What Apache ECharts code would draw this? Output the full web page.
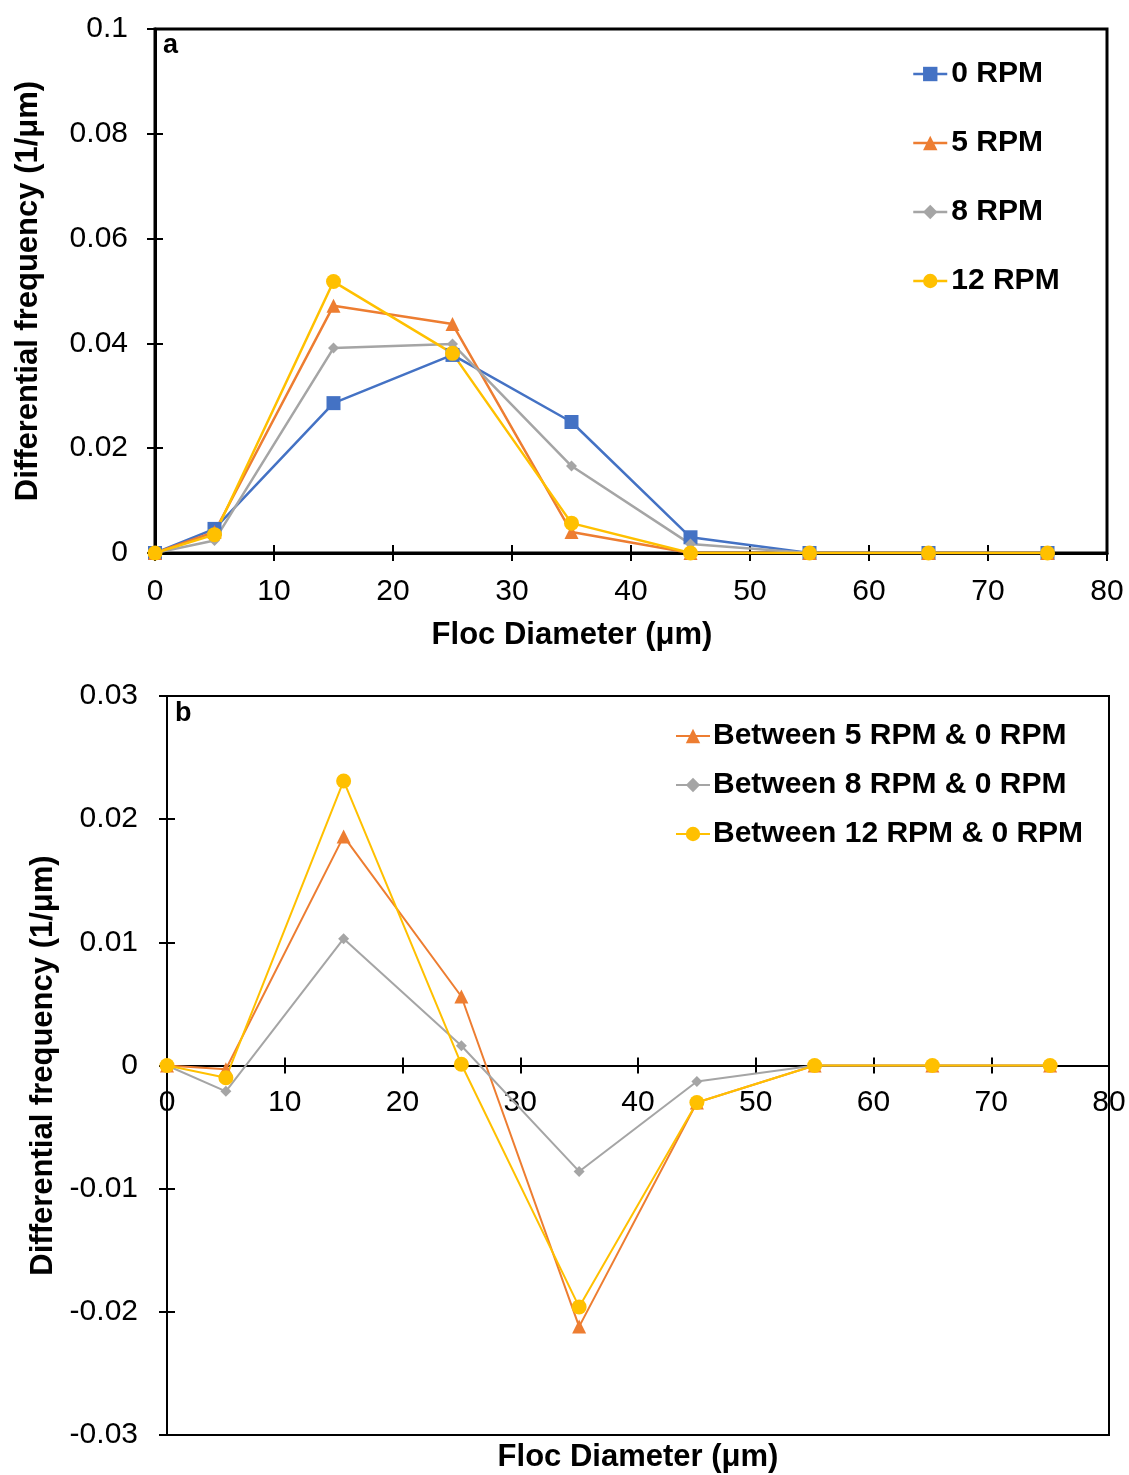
<!DOCTYPE html>
<html><head><meta charset="utf-8">
<script src="https://cdn.jsdelivr.net/npm/echarts@6/dist/echarts.min.js"></script>
<style>html,body{margin:0;padding:0;background:#fff}#c{width:1129px;height:1475px}</style>
</head><body><div id="c"></div>
<script>
const diameters = [0, 5, 15, 25, 35, 45, 55, 65, 75];
const rpm0  = [0, 0.0046, 0.0286, 0.0378, 0.0250, 0.0030, 0, 0, 0];
const rpm5  = [0, 0.0040, 0.0472, 0.0437, 0.0040, 0, 0, 0, 0];
const rpm8  = [0, 0.0024, 0.0391, 0.0399, 0.0166, 0.0017, 0, 0, 0];
const rpm12 = [0, 0.0035, 0.0518, 0.0381, 0.0057, 0, 0, 0, 0];
const diff5  = [0, -0.0003, 0.0186, 0.0056, -0.0212, -0.0030, 0, 0, 0];
const diff8  = [0, -0.0021, 0.0103, 0.0016, -0.0086, -0.0013, 0, 0, 0];
const diff12 = [0, -0.0010, 0.0231, 0.0001, -0.0196, -0.0030, 0, 0, 0];
const namesA = ['0 RPM', '5 RPM', '8 RPM', '12 RPM'];
const namesB = ['Between 5 RPM & 0 RPM', 'Between 8 RPM & 0 RPM', 'Between 12 RPM & 0 RPM'];
const xTicks = ['0','10','20','30','40','50','60','70','80'];
const yTicksA = ['0','0.02','0.04','0.06','0.08','0.1'];
const yTicksB = ['-0.03','-0.02','-0.01','0','0.01','0.02','0.03'];

const FONT = 'Liberation Sans, Arial, sans-serif';
const C = {blue:'#4472C4', orange:'#ED7D31', grey:'#A5A5A5', gold:'#FFC000'};
const pts = arr => diameters.map((d, i) => [d, arr[i]]);

// bottom panel: x axis sits at y = 0, i.e. half of the plot height above the bottom edge
const GRID_B_HEIGHT = 739;
const ZERO_OFFSET_B = -GRID_B_HEIGHT / 2;

function xAxes(g, lw, labelMargin, name, nameGap, namePad, offset) {
  return [{
    type:'value', gridIndex:g, min:0, max:80, interval:10, position:'bottom', offset:offset,
    axisLine:{show:true, onZero:false, lineStyle:{color:'#000', width:lw}},
    axisTick:{show:true, inside:false, length:8, lineStyle:{color:'#000', width:2}},
    axisLabel:{color:'#000', fontSize:30, fontFamily:FONT, margin:labelMargin,
      formatter:(v, i) => xTicks[i] !== undefined ? xTicks[i] : String(v)},
    splitLine:{show:false},
    name:name, nameLocation:'middle', nameGap:nameGap,
    nameTextStyle:{color:'#000', fontSize:31, fontWeight:'bold', fontFamily:FONT, padding:namePad}
  }, {
    type:'value', gridIndex:g, min:0, max:80, interval:10, position:'bottom', offset:offset,
    axisLine:{show:false, onZero:false}, axisLabel:{show:false}, splitLine:{show:false},
    axisTick:{show:true, inside:true, length:8, lineStyle:{color:'#000', width:2}}
  }];
}
function yAxes(g, lw, min, max, interval, labels, labelMargin, nameGap) {
  return [{
    type:'value', gridIndex:g, min:min, max:max, interval:interval, position:'left',
    axisLine:{show:true, onZero:false, lineStyle:{color:'#000', width:lw}},
    axisTick:{show:true, inside:false, length:8, lineStyle:{color:'#000', width:2}},
    axisLabel:{color:'#000', fontSize:30, fontFamily:FONT, margin:labelMargin,
      formatter:(v, i) => labels[i] !== undefined ? labels[i] : String(v)},
    splitLine:{show:false},
    name:'Differential frequency (1/μm)', nameLocation:'middle', nameGap:nameGap,
    nameTextStyle:{color:'#000', fontSize:31, fontWeight:'bold', fontFamily:FONT}
  }, {
    type:'value', gridIndex:g, min:min, max:max, interval:interval, position:'left',
    axisLine:{show:false, onZero:false}, axisLabel:{show:false}, splitLine:{show:false},
    axisTick:{show:true, inside:true, length:8, lineStyle:{color:'#000', width:2}}
  }];
}
function line(name, data, color, symbol, size, xi, yi, lw) {
  return {
    name:name, type:'line', xAxisIndex:xi, yAxisIndex:yi, data:pts(data),
    symbol:symbol, symbolSize:size, showSymbol:true,
    lineStyle:{color:color, width:lw}, itemStyle:{color:color},
    emphasis:{disabled:true}, animation:false, z:3
  };
}

const chart = echarts.init(document.getElementById('c'), null, {renderer:'canvas'});
chart.setOption({
  backgroundColor:'#fff',
  animation:false,
  grid:[
    {left:155, right:22, top:29, height:524, show:true, borderColor:'#000', borderWidth:3,
     backgroundColor:'transparent', containLabel:false, outerBoundsMode:'none'},
    {left:167, right:20, top:696, height:GRID_B_HEIGHT, show:true, borderColor:'#000', borderWidth:2,
     backgroundColor:'transparent', containLabel:false, outerBoundsMode:'none'}
  ],
  xAxis:[
    ...xAxes(0, 3, 24, 'Floc Diameter (μm)', 67, [0,118,0,0], 0),
    ...xAxes(1, 2, 22, 'Floc Diameter (μm)', 376, [0,0,0,0], ZERO_OFFSET_B)
  ],
  yAxis:[
    ...yAxes(0, 3, 0, 0.1, 0.02, yTicksA, 27, 111),
    ...yAxes(1, 2, -0.03, 0.03, 0.01, yTicksB, 29, 103)
  ],
  legend:[
    {data:namesA, orient:'vertical', left:912, top:59, padding:0, itemWidth:34, itemHeight:18, itemGap:39,
     lineStyle:{width:2.5},
     textStyle:{color:'#000', fontSize:30, fontWeight:'bold', fontFamily:FONT, lineHeight:30, padding:[0,0,0,-1]},
     selectedMode:false},
    {data:namesB, orient:'vertical', left:675, top:721, padding:0, itemWidth:34, itemHeight:18, itemGap:19,
     lineStyle:{width:2},
     textStyle:{color:'#000', fontSize:30, fontWeight:'bold', fontFamily:FONT, lineHeight:30, padding:[0,0,0,-2]},
     selectedMode:false}
  ],
  graphic:[
    {type:'text', left:163, top:32, style:{text:'a', fill:'#000', font:'bold 27px ' + FONT}},
    {type:'text', left:175, top:700, style:{text:'b', fill:'#000', font:'bold 27px ' + FONT}}
  ],
  series:[
    line(namesA[0], rpm0, C.blue, 'rect', 14, 0, 0, 2.5),
    line(namesA[1], rpm5, C.orange, 'triangle', 14, 0, 0, 2.5),
    line(namesA[2], rpm8, C.grey, 'diamond', 11, 0, 0, 2.5),
    line(namesA[3], rpm12, C.gold, 'circle', 15, 0, 0, 2.5),
    line(namesB[0], diff5, C.orange, 'triangle', 14, 2, 2, 2),
    line(namesB[1], diff8, C.grey, 'diamond', 11, 2, 2, 2),
    line(namesB[2], diff12, C.gold, 'circle', 15, 2, 2, 2)
  ]
});
</script></body></html>
